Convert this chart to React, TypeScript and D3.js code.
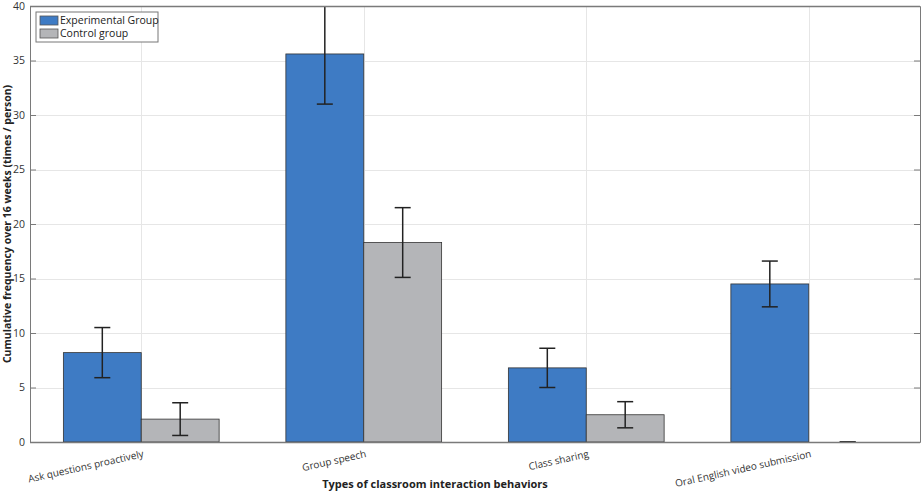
import React, { useEffect, useRef } from 'react';
import * as d3 from 'd3';

const categories = [
  'Ask questions proactively',
  'Group speech',
  'Class sharing',
  'Oral English video submission',
];
const seriesNames = ['Experimental Group', 'Control group'];
const experimentalMean = [8.2, 35.6, 6.8, 14.5];
const experimentalErr = [2.3, 4.6, 1.8, 2.1];
const controlMean = [2.1, 18.3, 2.5, 0];
const controlErr = [1.5, 3.2, 1.2, 0];
const yTicks = [0, 5, 10, 15, 20, 25, 30, 35, 40];

const colors = ['#3e7bc4', '#b4b5b8'];

function App() {
  const ref = useRef<SVGSVGElement>(null);

  useEffect(() => {
    const width = 923;
    const height = 497;
    const marginTop = 6;
    const marginRight = 3;
    const marginBottom = 55;
    const marginLeft = 30;
    const font = '"Open Sans", "Noto Sans", sans-serif';

    const svg = d3.select(ref.current);
    svg.selectAll('*').remove();

    const x = d3
      .scaleBand<string>()
      .domain(categories)
      .range([marginLeft, width - marginRight])
      .padding(0);
    const y = d3
      .scaleLinear()
      .domain([0, 40])
      .range([height - marginBottom, marginTop]);

    const groupW = x.bandwidth() * 0.7;
    const barW = groupW / 2;

    svg
      .append('defs')
      .append('clipPath')
      .attr('id', 'plot-clip')
      .append('rect')
      .attr('x', marginLeft)
      .attr('y', marginTop)
      .attr('width', width - marginLeft - marginRight)
      .attr('height', height - marginTop - marginBottom);

    // grid
    const grid = svg.append('g').attr('stroke', '#e6e6e6').attr('stroke-width', 1);
    grid
      .selectAll('line.h')
      .data(yTicks)
      .join('line')
      .attr('class', 'h')
      .attr('x1', marginLeft)
      .attr('x2', width - marginRight)
      .attr('y1', (d) => Math.round(y(d)) + 0.5)
      .attr('y2', (d) => Math.round(y(d)) + 0.5);
    grid
      .selectAll('line.v')
      .data(categories)
      .join('line')
      .attr('class', 'v')
      .attr('x1', (d) => Math.round(x(d)! + x.bandwidth() / 2) + 0.5)
      .attr('x2', (d) => Math.round(x(d)! + x.bandwidth() / 2) + 0.5)
      .attr('y1', marginTop)
      .attr('y2', height - marginBottom);

    const series = [
      { mean: experimentalMean, err: experimentalErr, color: colors[0], offset: 0 },
      { mean: controlMean, err: controlErr, color: colors[1], offset: 1 },
    ];

    const plot = svg.append('g').attr('clip-path', 'url(#plot-clip)');

    series.forEach((s) => {
      const bx = (i: number) =>
        x(categories[i])! + x.bandwidth() / 2 - groupW / 2 + s.offset * barW;
      plot
        .append('g')
        .selectAll('rect')
        .data(s.mean)
        .join('rect')
        .attr('x', (_, i) => bx(i))
        .attr('y', (d) => y(d))
        .attr('width', barW)
        .attr('height', (d) => y(0) - y(d))
        .attr('fill', s.color)
        .attr('stroke', '#333')
        .attr('stroke-width', 0.8);
    });

    series.forEach((s) => {
      const cx = (i: number) =>
        x(categories[i])! + x.bandwidth() / 2 - groupW / 2 + s.offset * barW + barW / 2;
      const eb = plot
        .append('g')
        .attr('stroke', '#222')
        .attr('stroke-width', 1.5)
        .selectAll('g')
        .data(s.mean)
        .join('g');
      eb.append('line')
        .attr('x1', (_, i) => cx(i))
        .attr('x2', (_, i) => cx(i))
        .attr('y1', (d, i) => y(d + s.err[i]))
        .attr('y2', (d, i) => y(d - s.err[i]));
      eb.append('line')
        .attr('x1', (_, i) => cx(i) - 8)
        .attr('x2', (_, i) => cx(i) + 8)
        .attr('y1', (d, i) => y(d + s.err[i]))
        .attr('y2', (d, i) => y(d + s.err[i]));
      eb.append('line')
        .attr('x1', (_, i) => cx(i) - 8)
        .attr('x2', (_, i) => cx(i) + 8)
        .attr('y1', (d, i) => y(d - s.err[i]))
        .attr('y2', (d, i) => y(d - s.err[i]));
    });

    // axes box
    const axisColor = '#7a7a7a';
    const left = svg
      .append('g')
      .attr('transform', `translate(${marginLeft},0)`)
      .call(d3.axisLeft(y).tickValues(yTicks).tickSize(-6).tickPadding(5));
    left.select('.domain').attr('stroke', axisColor);
    left.selectAll('.tick line').attr('stroke', axisColor);
    left
      .selectAll('.tick text')
      .attr('font-family', font)
      .attr('font-size', 10.5)
      .attr('fill', '#333');

    const right = svg
      .append('g')
      .attr('transform', `translate(${width - marginRight},0)`)
      .call(d3.axisRight(y).tickValues(yTicks).tickSize(-6).tickFormat(() => ''));
    right.select('.domain').attr('stroke', axisColor);
    right.selectAll('.tick line').attr('stroke', axisColor);

    svg
      .append('line')
      .attr('x1', marginLeft)
      .attr('x2', width - marginRight)
      .attr('y1', marginTop + 0.5)
      .attr('y2', marginTop + 0.5)
      .attr('stroke', axisColor)
      .attr('stroke-width', 1.5);
    svg
      .append('line')
      .attr('x1', marginLeft)
      .attr('x2', width - marginRight)
      .attr('y1', y(0) + 0.5)
      .attr('y2', y(0) + 0.5)
      .attr('stroke', axisColor)
      .attr('stroke-width', 1.5);

    // category labels
    svg
      .append('g')
      .selectAll('text')
      .data(categories)
      .join('text')
      .attr(
        'transform',
        (d) => `translate(${x(d)! + x.bandwidth() / 2 + 3},${y(0) + 15}) rotate(-12.5)`
      )
      .attr('text-anchor', 'end')
      .attr('font-family', font)
      .attr('font-size', 10)
      .attr('fill', '#333')
      .text((d) => d);

    svg
      .append('text')
      .attr('x', (marginLeft + width - marginRight) / 2 - 40)
      .attr('y', height - 9)
      .attr('text-anchor', 'middle')
      .attr('font-family', font)
      .attr('font-size', 11)
      .attr('font-weight', 'bold')
      .attr('fill', '#222')
      .text('Types of classroom interaction behaviors');

    svg
      .append('text')
      .attr('transform', `translate(11,${(marginTop + height - marginBottom) / 2}) rotate(-90)`)
      .attr('text-anchor', 'middle')
      .attr('font-family', font)
      .attr('font-size', 10.5)
      .attr('font-weight', 'bold')
      .attr('fill', '#222')
      .text('Cumulative frequency over 16 weeks (times / person)');

    // legend
    const lg = svg.append('g').attr('transform', 'translate(36,12)');
    lg.append('rect')
      .attr('width', 122)
      .attr('height', 30)
      .attr('fill', '#fff')
      .attr('stroke', '#777');
    seriesNames.forEach((name, i) => {
      lg.append('rect')
        .attr('x', 4)
        .attr('y', 4 + i * 13)
        .attr('width', 18)
        .attr('height', 9)
        .attr('fill', colors[i])
        .attr('stroke', '#555')
        .attr('stroke-width', 0.8);
      lg.append('text')
        .attr('x', 24)
        .attr('y', 12 + i * 13)
        .attr('font-family', font)
        .attr('font-size', 10.5)
        .attr('fill', '#222')
        .text(name);
    });
  }, []);

  return (
    <svg
      ref={ref}
      width={923}
      height={497}
      style={{ position: 'absolute', left: 0, top: 0, background: '#fff' }}
    />
  );
}

export default App;
